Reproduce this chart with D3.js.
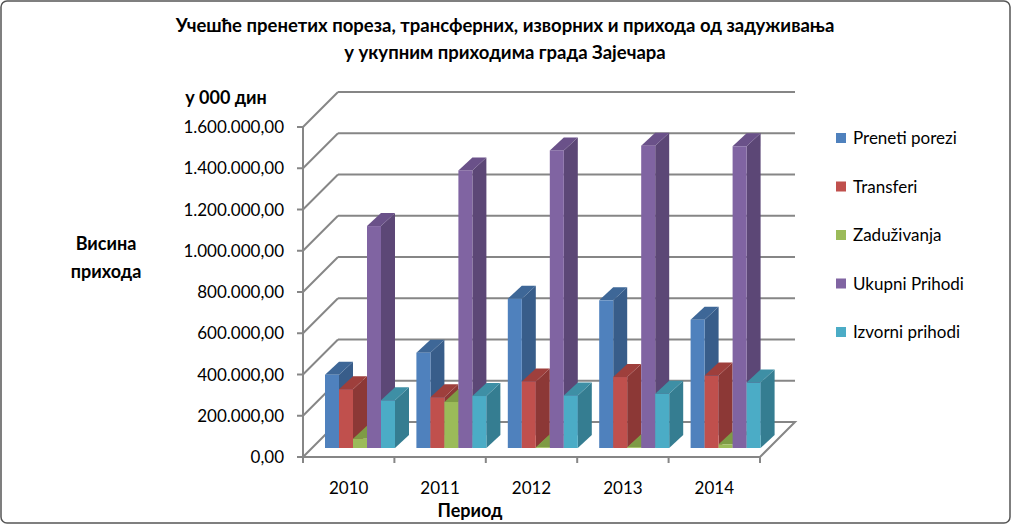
<!DOCTYPE html><html><head><meta charset="utf-8">
<script src="https://cdn.jsdelivr.net/npm/d3@7"></script>
<style>body{margin:0;background:#fff}svg{display:block;font-family:Lato,"Open Sans",sans-serif}</style></head><body>
<svg id="c" width="1011" height="524"></svg>
<script>
const categories=["2010","2011","2012","2013","2014"];
const seriesNames=["Preneti porezi","Transferi","Zaduživanja","Ukupni Prihodi","Izvorni prihodi"];
const preneti=[355000,462000,724000,716000,622000];
const transferi=[285000,246000,323000,344000,351000];
const zaduzivanja=[45000,223000,4000,4000,18000];
const ukupni=[1076000,1346000,1443000,1466000,1463000];
const izvorni=[231000,252000,255000,263000,317000];
const yTicks=[0,200000,400000,600000,800000,1000000,1200000,1400000,1600000];
const seriesValues=[preneti,transferi,zaduzivanja,ukupni,izvorni];
const colors=[["#4F81BD","#385D8A","#3E6797"],["#C0504D","#8C3836","#9E3F3C"],["#9BBB59","#71893F","#7E9B45"],["#8064A2","#5C4776","#6A5189"],["#4BACC6","#357D91","#3E8FA5"]];

const svg=d3.select("#c");
svg.append("rect").attr("x",1).attr("y",1).attr("width",1009).attr("height",522).attr("rx",6).attr("fill","#fff").attr("stroke","#555").attr("stroke-width",1.5);
const fmt=v=>d3.format(",.2f")(v).replace(/,/g,"#").replace(".",",").replace(/#/g,".");
const X0=303,Y0=457,DX=35,DY=-35,W=457;
const y=d3.scaleLinear().domain([0,1600000]).range([0,330]);
const g=svg.append("g");
const grid="#868686";
yTicks.forEach(t=>{
  const yy=Y0-y(t);
  if(t>0) g.append("line").attr("x1",X0+DX).attr("x2",X0+DX+W).attr("y1",yy+DY).attr("y2",yy+DY).attr("stroke",grid).attr("stroke-width",2);
  g.append("line").attr("x1",X0).attr("y1",yy).attr("x2",X0+DX).attr("y2",yy+DY).attr("stroke",grid).attr("stroke-width",2);
  g.append("line").attr("x1",X0-6).attr("x2",X0).attr("y1",yy).attr("y2",yy).attr("stroke",grid).attr("stroke-width",2);
  svg.append("text").attr("x",284).attr("y",yy+6).attr("text-anchor","end").attr("font-size",17).attr("fill","#000").text(fmt(t));
});
g.append("path").attr("d",`M${X0},${Y0}L${X0+W},${Y0}L${X0+W+DX},${Y0+DY}L${X0+DX},${Y0+DY}`).attr("fill","none").attr("stroke",grid).attr("stroke-width",2);
g.append("line").attr("x1",X0).attr("x2",X0).attr("y1",Y0).attr("y2",Y0-y(1600000)).attr("stroke",grid).attr("stroke-width",2);
const x=d3.scaleBand().domain(categories).range([X0,X0+W]);
categories.forEach((c,i)=>{
  g.append("line").attr("x1",x(c)).attr("x2",x(c)).attr("y1",Y0).attr("y2",Y0+6).attr("stroke",grid).attr("stroke-width",2);
  svg.append("text").attr("x",x(c)+x.bandwidth()/2).attr("y",494).attr("text-anchor","middle").attr("font-size",17).text(c);
});
g.append("line").attr("x1",X0+W).attr("x2",X0+W).attr("y1",Y0).attr("y2",Y0+6).attr("stroke",grid).attr("stroke-width",2);
const bx=d3.scaleBand().domain(d3.range(5)).range([13,83]);
const bw=bx.bandwidth(),ddx=14,ddy=-13,base=448,shift=9;
categories.forEach((c,i)=>{
  seriesValues.forEach((s,k)=>{
    const h=y(s[i]);const x1=x(c)+shift+bx(k);const top=base-h;const col=colors[k];
    const bg=g.append("g");
    bg.append("path").attr("d",`M${x1+bw},${base}L${x1+bw+ddx},${base+ddy}L${x1+bw+ddx},${top+ddy}L${x1+bw},${top}Z`).attr("fill",col[1]);
    bg.append("path").attr("d",`M${x1},${top}L${x1+ddx},${top+ddy}L${x1+bw+ddx},${top+ddy}L${x1+bw},${top}Z`).attr("fill",col[2]);
    bg.append("rect").attr("x",x1).attr("y",top).attr("width",bw).attr("height",h).attr("fill",col[0]);
  });
});
svg.append("text").attr("x",505).attr("y",32).attr("text-anchor","middle").attr("font-size",18.5).attr("font-weight","bold").text("Учешће пренетих пореза, трансферних, изворних и прихода од задуживања");
svg.append("text").attr("x",505).attr("y",59).attr("text-anchor","middle").attr("font-size",18.5).attr("font-weight","bold").text("у укупним приходима града Зајечара");
svg.append("text").attr("x",226).attr("y",104).attr("text-anchor","middle").attr("font-size",18).attr("font-weight","bold").text("у 000 дин");
svg.append("text").attr("x",106).attr("y",250).attr("text-anchor","middle").attr("font-size",18).attr("font-weight","bold").text("Висина");
svg.append("text").attr("x",106).attr("y",278).attr("text-anchor","middle").attr("font-size",18).attr("font-weight","bold").text("прихода");
svg.append("text").attr("x",470).attr("y",517).attr("text-anchor","middle").attr("font-size",18).attr("font-weight","bold").text("Период");
seriesNames.forEach((n,k)=>{
  const ly=138+k*48.5;
  svg.append("rect").attr("x",836).attr("y",ly-5).attr("width",10).attr("height",10).attr("fill",colors[k][0]);
  svg.append("text").attr("x",853).attr("y",ly+6).attr("font-size",17).text(n);
});
</script></body></html>
